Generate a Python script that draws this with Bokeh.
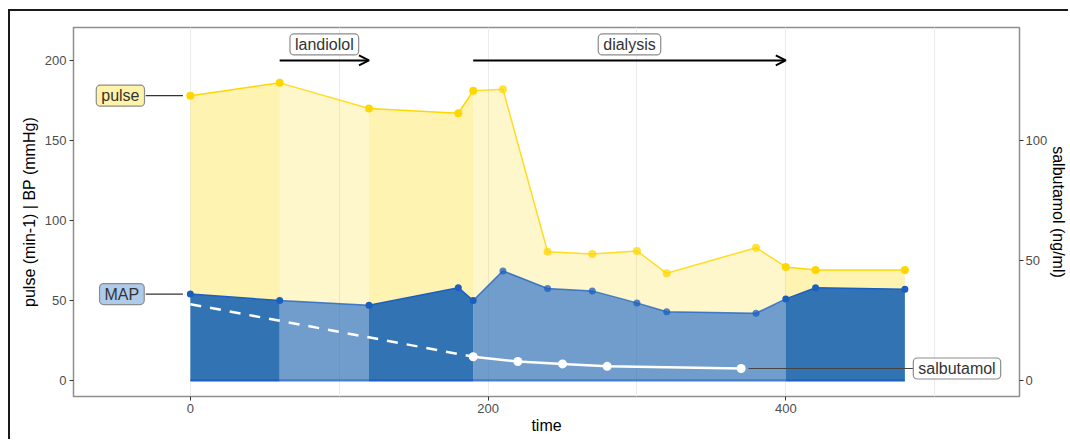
from bokeh.plotting import figure
from bokeh.models import Range1d, LinearAxis, FixedTicker, Label, Arrow, OpenHead
from bokeh.embed import file_html
from bokeh.resources import INLINE

# ---- data ----
time = [0, 60, 120, 180, 190, 210, 240, 270, 300, 320, 380, 400, 420, 480]
pulse = [178, 186, 170, 167, 181, 182, 80.5, 79, 81, 67, 83, 71, 69, 69]
map_bp = [54, 50, 47, 58, 50, 68.5, 57.5, 56, 48.5, 43, 42, 51, 58, 57]
sal_time = [190, 220, 250, 280, 370]
salbutamol = [9.9, 7.9, 6.9, 5.9, 5.0]
sal_extrap_time = [0, 190]
sal_extrap = [31.8, 9.9]
period_bounds = [0, 60, 120, 190, 400, 480]
period_active = [False, True, False, True, False]
interventions = ["landiolol", "dialysis"]
intervention_start = [60, 190]
intervention_end = [120, 400]
x_ticks = [0, 200, 400]
y_ticks = [0, 50, 100, 150, 200]
sal_ticks = [0, 50, 100]

FONT = "Liberation Sans"
GOLD = "#FFD700"
BLUE_FILL = "#1C64AC"
BLUE_LINE = "#1A5FC0"
SAL_SCALE = 1.5

p = figure(width=1060, height=430, x_range=Range1d(-78.5, 557),
           y_range=Range1d(-10, 220.6), output_backend="svg", toolbar_location=None,
           min_border_left=63, min_border_right=48, min_border_top=16, min_border_bottom=45)
p.extra_y_ranges = {"sal": Range1d(-10 / SAL_SCALE, 220.6 / SAL_SCALE)}
p.styles = {"margin-left": "8px", "margin-top": "9px",
            "border-left": "2px solid #1a1a1a", "border-top": "2px solid #1a1a1a"}

p.outline_line_color = "#8f8f8f"
p.outline_line_width = 1.5
p.background_fill_color = "white"
p.ygrid.visible = False
p.xgrid.ticker = FixedTicker(ticks=[-100, 0, 100, 200, 300, 400, 500])
p.xgrid.grid_line_color = "#ebebeb"
p.xgrid.grid_line_width = 1

p.xaxis.ticker = FixedTicker(ticks=x_ticks)
p.yaxis.ticker = FixedTicker(ticks=y_ticks)
p.xaxis.axis_label = "time"
p.yaxis.axis_label = "pulse (min-1) | BP (mmHg)"

ax_r = LinearAxis(y_range_name="sal", ticker=FixedTicker(ticks=sal_ticks),
                  axis_label="salbutamol (ng/ml)")
p.add_layout(ax_r, "right")

for ax in [p.xaxis[0], p.yaxis[0], ax_r]:
    ax.axis_line_color = None
    ax.major_tick_line_color = "#333333"
    ax.major_tick_out = 4
    ax.major_tick_in = 0
    ax.minor_tick_line_color = None
    ax.major_label_text_font = FONT
    ax.major_label_text_font_size = "13px"
    ax.major_label_text_color = "#4d4d4d"
    ax.major_label_standoff = 3
    ax.axis_label_text_font = FONT
    ax.axis_label_text_font_size = "16px"
    ax.axis_label_text_font_style = "normal"
    ax.axis_label_text_color = "black"
    ax.axis_label_standoff = 4
p.xaxis[0].axis_label_standoff = 1
ax_r.axis_label_standoff = 0
ax_r.major_label_standoff = 2

# ---- area segments ----
for i, active in enumerate(period_active):
    lo, hi = period_bounds[i], period_bounds[i + 1]
    idx = [k for k, t in enumerate(time) if lo <= t <= hi]
    xs = [time[k] for k in idx]
    ps = [pulse[k] for k in idx]
    ms = [map_bp[k] for k in idx]
    p.varea(x=xs, y1=ms, y2=ps, fill_color=GOLD, fill_alpha=0.2 if active else 0.3)
    p.varea(x=xs, y1=[0] * len(xs), y2=ms, fill_color=BLUE_FILL,
            fill_alpha=0.63 if active else 0.9)
    la = 0.75 if active else 1.0
    p.line(xs, [0] * len(xs), line_color=BLUE_LINE, line_width=2, line_alpha=la)
    p.line(xs, ms, line_color=BLUE_LINE, line_width=1.5, line_alpha=la)
    p.line(xs, ps, line_color=GOLD, line_width=1.5, line_alpha=0.85 if active else 1.0)

def is_active(t):
    return any(s < t < e for s, e in zip(intervention_start, intervention_end))

pt_alpha = [0.75 if is_active(t) else 1.0 for t in time]
p.scatter(time, pulse, size=8, fill_color=GOLD, line_color=None, fill_alpha=pt_alpha)
p.scatter(time, map_bp, size=7, fill_color=BLUE_LINE, line_color=None, fill_alpha=pt_alpha)

# ---- salbutamol ----
p.line(sal_extrap_time, sal_extrap, y_range_name="sal", line_color="white",
       line_width=2.5, line_dash="11 9")
p.line(sal_time, salbutamol, y_range_name="sal", line_color="white", line_width=2.5)
p.scatter(sal_time, salbutamol, y_range_name="sal", size=9, fill_color="white",
          line_color=None)

# ---- label connectors ----
p.line([-30, -5], [pulse[0], pulse[0]], line_color="#333333", line_width=1.2)
p.line([-30, -5], [map_bp[0], map_bp[0]], line_color="#333333", line_width=1.2)
p.line([sal_time[-1] + 5, 486], [salbutamol[-1], salbutamol[-1]], y_range_name="sal",
       line_color="#444444", line_width=1.2)

def box_label(x, y, text, fill, y_range_name="default"):
    lab = Label(x=x, y=y, text=text, text_align="center", text_baseline="middle",
                text_font=FONT, text_font_size="16px", text_color="#333333",
                background_fill_color=fill, border_line_color="#8c8c8c",
                border_line_width=1.2, border_radius=4, padding=(5, 2),
                y_range_name=y_range_name)
    p.add_layout(lab)

box_label(-47, pulse[0], "pulse", "#FEF3A9")
box_label(-46, map_bp[0], "MAP", "#AFCBEA")
box_label(515, salbutamol[-1], "salbutamol", "white", "sal")

# ---- interventions ----
for name, s, e in zip(interventions, intervention_start, intervention_end):
    p.add_layout(Arrow(end=OpenHead(size=10, line_width=2, line_color="black"),
                       x_start=s, y_start=200, x_end=e, y_end=200,
                       line_width=2, line_color="black"))
    box_label((s + e) / 2, 210, name, "white")

open("out.html", "w").write(file_html(p, INLINE))
